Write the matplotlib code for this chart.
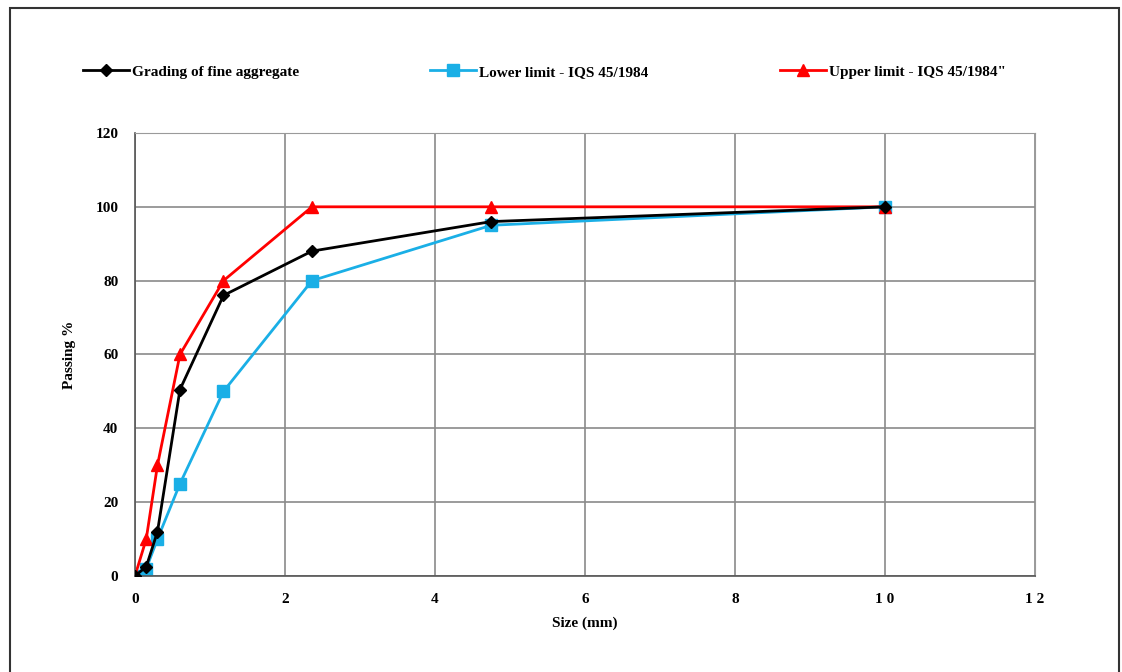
import matplotlib.pyplot as plt
from matplotlib.patches import Rectangle

size_grading = [0.0, 0.15, 0.3, 0.6, 1.18, 2.36, 4.75, 10]
passing_grading = [0, 2.5, 12, 50.5, 76, 88, 96, 100]

size_lower = [0.0, 0.15, 0.3, 0.6, 1.18, 2.36, 4.75, 10]
passing_lower = [0, 2, 10, 25, 50, 80, 95, 100]

size_upper = [0.0, 0.15, 0.3, 0.6, 1.18, 2.36, 4.75, 10]
passing_upper = [0, 10, 30, 60, 80, 100, 100, 100]

x_ticks = [0, 2, 4, 6, 8, 10, 12]
x_tick_labels = ["0", "2", "4", "6", "8", "1 0", "1 2"]
y_ticks = [0, 20, 40, 60, 80, 100, 120]

plt.rcParams['font.family'] = ['Liberation Serif', 'DejaVu Serif']
plt.rcParams['font.weight'] = 'bold'

fig = plt.figure(figsize=(11.22, 6.72), dpi=100)
ax = fig.add_axes([0.1203, 0.1429, 0.8022, 0.6592])

ax.plot(size_grading, passing_grading, color="black", marker="D", markersize=6,
        linewidth=2, label="Grading of fine aggregate", zorder=3)
ax.plot(size_lower, passing_lower, color="#1AAFE6", marker="s", markersize=9,
        linewidth=2, label="Lower limit - IQS 45/1984", zorder=2)
ax.plot(size_upper, passing_upper, color="#FF0000", marker="^", markersize=8,
        linewidth=2, label="Upper limit - IQS 45/1984\"", zorder=2)

ax.set_xlim(0, 12)
ax.set_ylim(0, 120)
ax.set_xticks(x_ticks)
ax.set_xticklabels(x_tick_labels)
ax.set_yticks(y_ticks)
ax.tick_params(length=0, labelsize=11, pad=12)
ax.grid(True, color="#8a8a8a", linewidth=1.2)
ax.set_axisbelow(True)
for s in ["top", "right"]:
    ax.spines[s].set_color("#9a9a9a")
for s in ["bottom", "left"]:
    ax.spines[s].set_color("#555555")
    ax.spines[s].set_linewidth(1.2)

ax.set_xlabel("Size (mm)", fontsize=11, fontweight="bold", labelpad=8)
ax.set_ylabel("Passing %", fontsize=11, fontweight="bold", labelpad=14)

fig.legend(loc="center", bbox_to_anchor=(0.485, 0.893), ncol=3, frameon=False,
           fontsize=11, handlelength=3, columnspacing=8.6, handletextpad=0.2)

fig.patches.append(Rectangle((0.009, -0.1), 0.988, 1.088, transform=fig.transFigure,
                             fill=False, edgecolor="#333333", linewidth=1.5))

fig.savefig("out.png", dpi=100)
